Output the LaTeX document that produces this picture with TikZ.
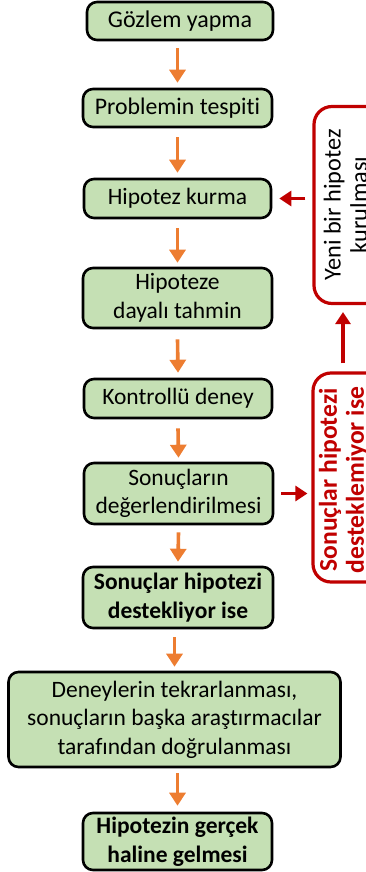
\documentclass[tikz,border=0pt]{standalone}
\usepackage{fontspec}
\setmainfont{Carlito}[Ligatures=NoCommon]
\usetikzlibrary{arrows.meta}
\definecolor{boxgreen}{HTML}{C5E0B4}
\definecolor{arrorange}{HTML}{ED7D31}
\definecolor{darkred}{HTML}{C00000}
\tikzset{
  stepbox/.style={draw=black, line width=2.6pt, fill=boxgreen, rounded corners=10pt,
    inner sep=0pt, align=center, font=\fontsize{23.5}{28.5}\selectfont},
  redbox/.style={draw=darkred, line width=3.2pt, rounded corners=18pt, inner sep=0pt},
  redtext/.style={rotate=90, align=center, inner sep=0pt, font=\fontsize{24.3}{26.5}\selectfont},
  oarrow/.style={draw=arrorange, line width=3.6pt, -{Triangle[width=16pt,length=13pt]}, arrorange},
  rarrow/.style={draw=darkred, line width=3.6pt, -{Triangle[width=15pt,length=12pt]}, darkred}
}
\begin{document}
\begin{tikzpicture}[x=1pt,y=-1pt]
\useasboundingbox (0,0) rectangle (366,872);
\clip (0,0) rectangle (366,872);
\node[stepbox, minimum width=186pt, minimum height=38pt, font=\fontsize{24}{28.5}\selectfont] (b1) at (180,21) {Gözlem yapma};
\node[stepbox, minimum width=189pt, minimum height=38pt, font=\fontsize{23.8}{28.5}\selectfont] (b2) at (177.5,108) {Problemin tespiti};
\node[stepbox, minimum width=187pt, minimum height=39pt] (b3) at (177.5,198.5) {Hipotez kurma};
\node[stepbox, minimum width=189pt, minimum height=60pt] (b4) at (177.5,298) {Hipoteze\\dayalı tahmin};
\node[stepbox, minimum width=188pt, minimum height=39pt] (b5) at (178,398.5) {Kontrollü deney};
\node[stepbox, minimum width=189pt, minimum height=61pt] (b6) at (178.5,493.5) {Sonuçların\\değerlendirilmesi};
\node[stepbox, minimum width=190pt, minimum height=61pt, font=\fontsize{23.5}{28.5}\selectfont\bfseries] (b7) at (178,597.5) {Sonuçlar hipotezi\\destekliyor ise};
\node[stepbox, minimum width=332pt, minimum height=95pt] (b8) at (174.5,719.5) {Deneylerin tekrarlanması,\\sonuçların başka araştırmacılar\\tarafından doğrulanması};
\node[stepbox, minimum width=189pt, minimum height=57pt, font=\fontsize{23.5}{28.5}\selectfont\bfseries] (b9) at (177.5,841.5) {Hipotezin gerçek\\haline gelmesi};

\node[redbox, minimum width=100pt, minimum height=197pt] (r1) at (364,205) {};
\node[redbox, minimum width=100pt, minimum height=209pt] (r2) at (363,477.5) {};
\node[redtext] (t1) at (345.5,205) {Yeni bir hipotez\\kurulması};
\node[redtext, text=darkred, font=\fontsize{25.6}{27}\selectfont\bfseries] (t2) at (343.5,480) {Sonuçlar hipotezi\\desteklemiyor ise};

\draw[oarrow] ([yshift=-7pt]b1.south -| b2.north) -- ([yshift=5pt]b2.north);
\draw[oarrow] ([yshift=-9pt]b2.south) -- ([yshift=5pt]b3.north);
\draw[oarrow] ([yshift=-9pt]b3.south) -- ([yshift=4pt]b4.north);
\draw[oarrow] ([yshift=-10pt]b4.south) -- ([yshift=5pt]b5.north);
\draw[oarrow] ([yshift=-9pt]b5.south) -- ([yshift=4pt]b6.north);
\draw[oarrow] ([yshift=-7pt]b6.south) -- ([yshift=4pt]b7.north);
\draw[oarrow] ([yshift=-8pt]b7.south -| b8.north) -- ([yshift=4pt]b8.north);
\draw[oarrow] ([yshift=-5pt]b8.south -| b9.north) -- ([yshift=6pt]b9.north);

\draw[rarrow] ([xshift=-7pt]r1.west |- b3.east) -- ([xshift=7pt]b3.east);
\draw[rarrow] ([xshift=7pt]b6.east) -- ([xshift=-4pt]r2.west |- b6.east);
\draw[rarrow] ([yshift=8pt]r2.north -| 343,0) -- ([yshift=-7pt]r1.south -| 343,0);
\end{tikzpicture}
\end{document}
